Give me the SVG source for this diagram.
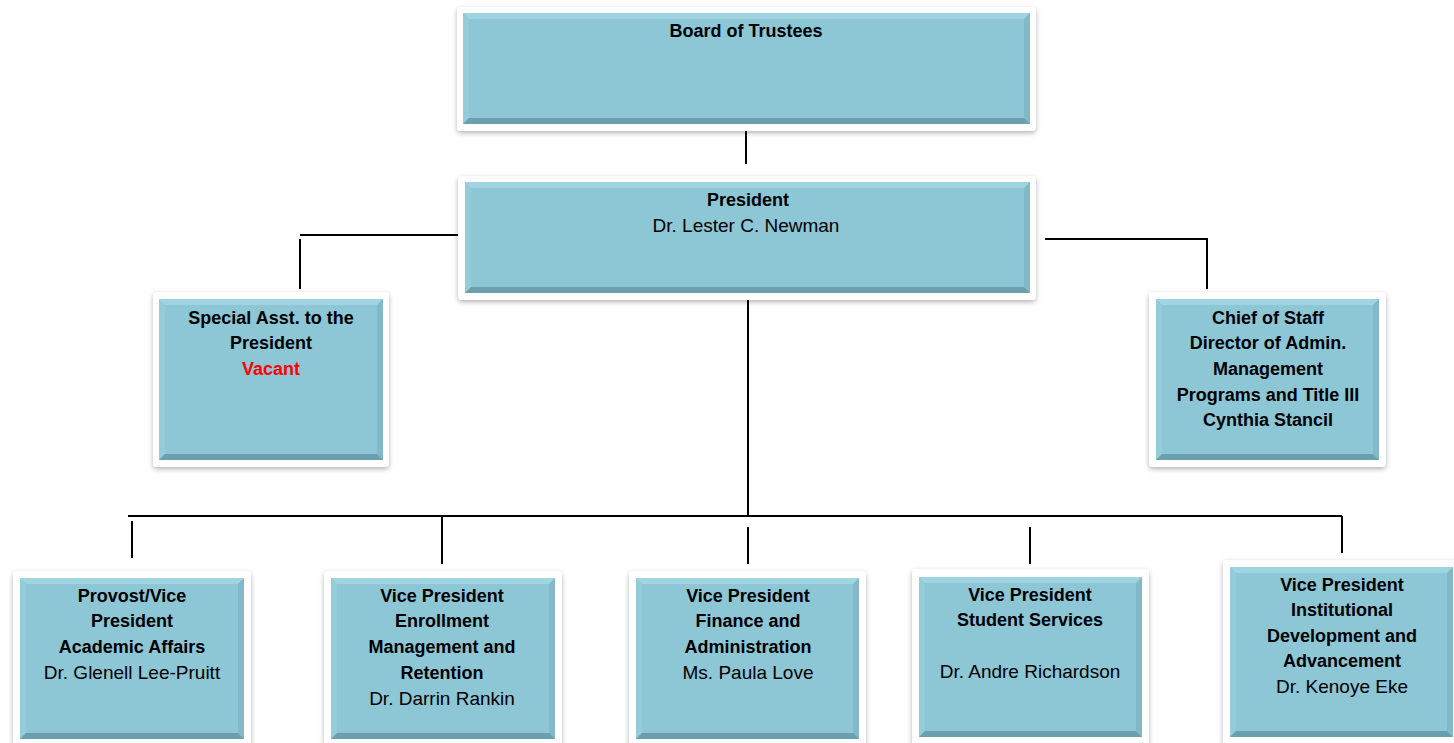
<svg xmlns="http://www.w3.org/2000/svg" width="1454" height="743" viewBox="0 0 1454 743">
<defs>
<filter id="sh" x="-10%" y="-10%" width="120%" height="130%">
<feGaussianBlur in="SourceAlpha" stdDeviation="2.5"/>
<feOffset dx="0" dy="2" result="b"/>
<feFlood flood-color="#000" flood-opacity="0.3"/>
<feComposite in2="b" operator="in"/>
<feMerge><feMergeNode/><feMergeNode in="SourceGraphic"/></feMerge>
</filter>
</defs>
<style>
.frame{fill:#fff;filter:url(#sh)}
.face{fill:#8DC6D5}
.bt{fill:#A0D4E3}
.bl{fill:#95CCDA}
.br{fill:#82B8C7}
.bb{fill:#6C9FAE}
.con{stroke:#000;stroke-width:2;fill:none}
text{font-family:"Liberation Sans",Arial,sans-serif;text-anchor:middle;fill:#000}
.b{font-weight:bold;font-size:18px}
.r{font-size:19px}
.red{fill:#FF0000}
</style>
<rect width="1454" height="743" fill="#fff"/>
<g id="connectors" class="con">
<line x1="746" y1="131" x2="746" y2="164"/>
<polyline points="461,235 300,235"/>
<line x1="300" y1="239" x2="300" y2="289"/>
<polyline points="1045,239 1207,239 1207,289"/>
<line x1="748" y1="300" x2="748" y2="516"/>
<line x1="128" y1="516" x2="1342" y2="516"/>
<line x1="132" y1="521" x2="132" y2="558"/>
<line x1="442" y1="516" x2="442" y2="564"/>
<line x1="748" y1="527" x2="748" y2="564"/>
<line x1="1030" y1="527" x2="1030" y2="564"/>
<line x1="1342" y1="516" x2="1342" y2="553"/>
</g>
<g id="board">
<rect class="frame" x="457" y="7" width="579" height="124" rx="4"/>
<rect class="face" x="463" y="13" width="567" height="111"/>
<polygon class="bt" points="463,13 1030,13 1024,19 469,19"/>
<polygon class="bl" points="463,13 469,19 469,118 463,124"/>
<polygon class="br" points="1030,13 1024,19 1024,118 1030,124"/>
<polygon class="bb" points="463,124 1030,124 1024,118 469,118"/>
<text class="b" x="746" y="37">Board of Trustees</text>
</g>
<g id="president">
<rect class="frame" x="458" y="176" width="578" height="124" rx="4"/>
<rect class="face" x="465" y="182" width="565" height="111"/>
<polygon class="bt" points="465,182 1030,182 1024,188 471,188"/>
<polygon class="bl" points="465,182 471,188 471,287 465,293"/>
<polygon class="br" points="1030,182 1024,188 1024,287 1030,293"/>
<polygon class="bb" points="465,293 1030,293 1024,287 471,287"/>
<text class="b" x="748" y="206">President</text>
<text class="r" x="746" y="232">Dr. Lester C. Newman</text>
</g>
<g id="special-asst">
<rect class="frame" x="153" y="292" width="236" height="175" rx="4"/>
<rect class="face" x="159" y="299" width="224" height="161"/>
<polygon class="bt" points="159,299 383,299 377,305 165,305"/>
<polygon class="bl" points="159,299 165,305 165,454 159,460"/>
<polygon class="br" points="383,299 377,305 377,454 383,460"/>
<polygon class="bb" points="159,460 383,460 377,454 165,454"/>
<text class="b" x="271" y="324">Special Asst. to the</text>
<text class="b" x="271" y="349">President</text>
<text class="b red" x="271" y="375">Vacant</text>
</g>
<g id="chief-of-staff">
<rect class="frame" x="1149" y="292" width="237" height="175" rx="4"/>
<rect class="face" x="1156" y="299" width="223" height="161"/>
<polygon class="bt" points="1156,299 1379,299 1373,305 1162,305"/>
<polygon class="bl" points="1156,299 1162,305 1162,454 1156,460"/>
<polygon class="br" points="1379,299 1373,305 1373,454 1379,460"/>
<polygon class="bb" points="1156,460 1379,460 1373,454 1162,454"/>
<text class="b" x="1268" y="324">Chief of Staff</text>
<text class="b" x="1268" y="349">Director of Admin.</text>
<text class="b" x="1268" y="375">Management</text>
<text class="b" x="1268" y="401">Programs and Title III</text>
<text class="b" x="1268" y="426">Cynthia Stancil</text>
</g>
<g id="provost">
<rect class="frame" x="13" y="571" width="238" height="185" rx="4"/>
<rect class="face" x="20" y="578" width="224" height="161"/>
<polygon class="bt" points="20,578 244,578 238,584 26,584"/>
<polygon class="bl" points="20,578 26,584 26,733 20,739"/>
<polygon class="br" points="244,578 238,584 238,733 244,739"/>
<polygon class="bb" points="20,739 244,739 238,733 26,733"/>
<text class="b" x="132" y="602">Provost/Vice</text>
<text class="b" x="132" y="627">President</text>
<text class="b" x="132" y="653">Academic Affairs</text>
<text class="r" x="132" y="679">Dr. Glenell Lee-Pruitt</text>
</g>
<g id="vp-enrollment">
<rect class="frame" x="324" y="571" width="238" height="185" rx="4"/>
<rect class="face" x="331" y="578" width="224" height="161"/>
<polygon class="bt" points="331,578 555,578 549,584 337,584"/>
<polygon class="bl" points="331,578 337,584 337,733 331,739"/>
<polygon class="br" points="555,578 549,584 549,733 555,739"/>
<polygon class="bb" points="331,739 555,739 549,733 337,733"/>
<text class="b" x="442" y="602">Vice President</text>
<text class="b" x="442" y="627">Enrollment</text>
<text class="b" x="442" y="653">Management and</text>
<text class="b" x="442" y="679">Retention</text>
<text class="r" x="442" y="705">Dr. Darrin Rankin</text>
</g>
<g id="vp-finance">
<rect class="frame" x="629" y="571" width="237" height="185" rx="4"/>
<rect class="face" x="636" y="578" width="223" height="161"/>
<polygon class="bt" points="636,578 859,578 853,584 642,584"/>
<polygon class="bl" points="636,578 642,584 642,733 636,739"/>
<polygon class="br" points="859,578 853,584 853,733 859,739"/>
<polygon class="bb" points="636,739 859,739 853,733 642,733"/>
<text class="b" x="748" y="602">Vice President</text>
<text class="b" x="748" y="627">Finance and</text>
<text class="b" x="748" y="653">Administration</text>
<text class="r" x="748" y="679">Ms. Paula Love</text>
</g>
<g id="vp-student">
<rect class="frame" x="912" y="569" width="237" height="185" rx="4"/>
<rect class="face" x="919" y="577" width="223" height="160"/>
<polygon class="bt" points="919,577 1142,577 1136,583 925,583"/>
<polygon class="bl" points="919,577 925,583 925,731 919,737"/>
<polygon class="br" points="1142,577 1136,583 1136,731 1142,737"/>
<polygon class="bb" points="919,737 1142,737 1136,731 925,731"/>
<text class="b" x="1030" y="601">Vice President</text>
<text class="b" x="1030" y="626">Student Services</text>
<text class="r" x="1030" y="678">Dr. Andre Richardson</text>
</g>
<g id="vp-institutional">
<rect class="frame" x="1223" y="560" width="240" height="195" rx="4"/>
<rect class="face" x="1230" y="567" width="223" height="170"/>
<polygon class="bt" points="1230,567 1453,567 1447,573 1236,573"/>
<polygon class="bl" points="1230,567 1236,573 1236,731 1230,737"/>
<polygon class="br" points="1453,567 1447,573 1447,731 1453,737"/>
<polygon class="bb" points="1230,737 1453,737 1447,731 1236,731"/>
<text class="b" x="1342" y="591">Vice President</text>
<text class="b" x="1342" y="616">Institutional</text>
<text class="b" x="1342" y="642">Development and</text>
<text class="b" x="1342" y="667">Advancement</text>
<text class="r" x="1342" y="693">Dr. Kenoye Eke</text>
</g>
</svg>
